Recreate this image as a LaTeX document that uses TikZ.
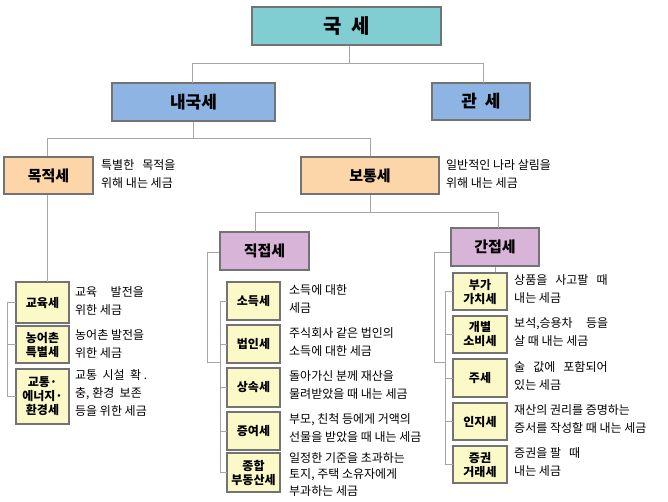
\documentclass[tikz,border=0pt]{standalone}
\usepackage{fontspec}
\setmainfont{Noto Sans CJK KR}
\begin{document}
\begin{tikzpicture}[x=1pt,y=-1pt,
  bx/.style={draw=gray!90!black,line width=1.3pt,inner sep=0pt,font=\bfseries,align=center},
  sm/.style={bx,fill=yel,font=\bfseries\fontsize{12}{14}\selectfont},
  ds/.style={anchor=north west,align=left,inner sep=0pt,font=\fontsize{12}{18}\selectfont},
  ln/.style={draw=gray!70,line width=0.9pt}]
\definecolor{teal1}{HTML}{80CDD2}
\definecolor{blu}{HTML}{8DB4E2}
\definecolor{pch}{HTML}{FCD5A8}
\definecolor{lav}{HTML}{D9B4D9}
\definecolor{yel}{HTML}{FCF9C9}
\useasboundingbox (0,0) rectangle (668,501);
\fill[white] (0,0) rectangle (668,501);
% top levels
\node[bx,fill=teal1,minimum width=189,minimum height=38,font=\bfseries\fontsize{20}{22}\selectfont] (gs) at (346.5,26) {국\ \ 세};
\node[bx,fill=blu,minimum width=163,minimum height=38,font=\bfseries\fontsize{17}{19}\selectfont] (ng) at (193.5,102) {내국세};
\node[bx,fill=blu,minimum width=98,minimum height=37,font=\bfseries\fontsize{17}{19}\selectfont] (gw) at (481,101.5) {관\ \ 세};
\node[bx,fill=pch,minimum width=89,minimum height=37,font=\bfseries\fontsize{15}{17}\selectfont] (mj) at (48.5,175.5) {목적세};
\node[bx,fill=pch,minimum width=138,minimum height=37,font=\bfseries\fontsize{15}{17}\selectfont] (bt) at (370,175.5) {보통세};
\node[bx,fill=lav,minimum width=89,minimum height=38,font=\bfseries\fontsize{15}{17}\selectfont] (jj) at (264.5,251) {직접세};
\node[bx,fill=lav,minimum width=88,minimum height=38,font=\bfseries\fontsize{15}{17}\selectfont] (gj) at (495,247) {간접세};
\node[ds] (t1) at (101,159) {특별한\ \ \ 목적을\\위해 내는 세금};
\node[ds] (t2) at (446,159) {일반적인\ 나라 살림을\\위해 내는 세금};
% connectors top
\coordinate (h1) at (349,63);
\draw[ln] (gs.south -| h1) -- (h1);
\draw[ln] (192,63) -- (483,63);
\draw[ln] (192,63) -- (192,83);
\draw[ln] (483,63) -- (483,83);
\draw[ln] (ng.south) -- (193.5,138);
\draw[ln] (47,138) -- (370,138);
\draw[ln] (47,138) -- (mj.north -| 47,0);
\draw[ln] (370,138) -- (bt.north);
\draw[ln] (bt.south) -- (370,212);
\draw[ln] (255,212) -- (498,212);
\draw[ln] (255,212) -- (255,232);
\draw[ln] (498,212) -- (498,228);
% left group
\node[sm,minimum width=53,minimum height=41] (a1) at (42.5,302.5) {교육세};
\node[sm,minimum width=53,minimum height=37] (a2) at (42.5,344.5) {농어촌\\특별세};
\node[sm,minimum width=53,minimum height=55] (a3) at (42.5,396.5) {교통·\\에너지·\\환경세};
\draw[ln] (mj.south -| 47,0) -- (47,282);
\draw[ln] (16,302.5) -- (7,302.5) -- (7,396.5) -- (16,396.5);
\draw[ln] (7,344.5) -- (16,344.5);
\node[ds] at (75,286) {교육\ \ \ \ \ 발전을\\위한 세금};
\node[ds] at (75,329) {농어촌 발전을\\위한 세금};
\node[ds] at (75,369) {교통\ \ 시설\ \ 확\ .\\충, 환경\ \ 보존\\등을 위한 세금};
% middle group
\node[sm,minimum width=53,minimum height=38] (b1) at (253.5,301) {소득세};
\node[sm,minimum width=53,minimum height=38] (b2) at (253.5,344) {법인세};
\node[sm,minimum width=53,minimum height=39] (b3) at (253.5,387.5) {상속세};
\node[sm,minimum width=53,minimum height=38] (b4) at (253.5,431) {증여세};
\node[sm,minimum width=53,minimum height=39] (b5) at (253.5,472.5) {종합\\부동산세};
\draw[ln] (jj.west |- 0,252) -- (207,252) -- (207,362) -- (220,362);
\draw[ln] (227,301) -- (220,301) -- (220,472.5) -- (227,472.5);
\foreach \y in {344,387.5,431} \draw[ln] (220,\y) -- (227,\y);
\node[ds] at (289,284) {소득에 대한\\세금};
\node[ds] at (289,327) {주식회사 같은 법인의\\소득에 대한 세금};
\node[ds] at (289,370) {돌아가신 분께 재산을\\물려받았을 때 내는 세금};
\node[ds] at (289,413) {부모, 친척 등에게 거액의\\선물을 받았을 때 내는 세금};
\node[ds,font=\fontsize{12}{16.5}\selectfont] at (289,452) {일정한 기준을 초과하는\\토지, 주택 소유자에게\\부과하는 세금};
% right group
\node[sm,minimum width=54,minimum height=37] (c1) at (480,291.5) {부가\\가치세};
\node[sm,minimum width=54,minimum height=37] (c2) at (480,334.5) {개별\\소비세};
\node[sm,minimum width=54,minimum height=38] (c3) at (480,378) {주세};
\node[sm,minimum width=54,minimum height=37] (c4) at (480,421.5) {인지세};
\node[sm,minimum width=54,minimum height=37] (c5) at (480,464.5) {증권\\거래세};
\draw[ln] (gj.west |- 0,252) -- (434,252) -- (434,362) -- (445,362);
\draw[ln] (453,291.5) -- (445,291.5) -- (445,464.5) -- (453,464.5);
\foreach \y in {334.5,378,421.5} \draw[ln] (445,\y) -- (453,\y);
\draw[ln] (gj.south) -- (c1.north -| gj.south);
\node[ds] at (514,274) {상품을\ \ \ 사고팔\ \ \ 때\\내는 세금};
\node[ds] at (514,317) {보석,승용차\ \ \ \ \ 등을\\살 때 내는 세금};
\node[ds] at (514,361) {술\ \ \ 값에\ \ \ 포함되어\\있는 세금};
\node[ds] at (514,404) {재산의 권리를 증명하는\\증서를 작성할 때 내는 세금};
\node[ds] at (514,447) {증권을 팔\ \ \ 때\\내는 세금};
\end{tikzpicture}
\end{document}
